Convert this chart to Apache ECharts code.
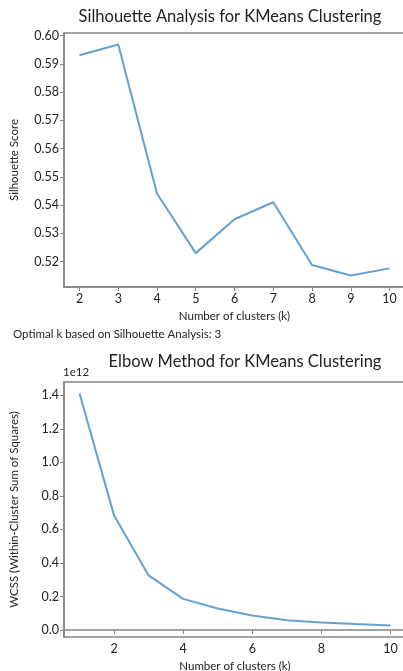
<!DOCTYPE html>
<html>
<head>
<meta charset="utf-8">
<script src="https://cdn.jsdelivr.net/npm/echarts@6/dist/echarts.min.js"></script>
<style>
  html, body { margin: 0; padding: 0; background: #fff; }
  #chart { width: 403px; height: 671px; }
</style>
</head>
<body>
<div id="chart"></div>
<script>
// Silhouette scores for k = 2..10
const silhouetteK = [2, 3, 4, 5, 6, 7, 8, 9, 10];
const silhouetteScores = [0.593, 0.5968, 0.5441, 0.523, 0.535, 0.541, 0.5188, 0.5151, 0.5176];
const silhouetteTicks = [0.52, 0.53, 0.54, 0.55, 0.56, 0.57, 0.58, 0.59, 0.60];

// Within-cluster sum of squares for k = 1..10
const elbowK = [1, 2, 3, 4, 5, 6, 7, 8, 9, 10];
const wcss = [1.41e12, 0.6825e12, 0.326e12, 0.186e12, 0.129e12, 0.087e12, 0.059e12, 0.046e12, 0.036e12, 0.028e12];
const wcssTicks = [0, 0.2e12, 0.4e12, 0.6e12, 0.8e12, 1.0e12, 1.2e12, 1.4e12];
const elbowXTicks = [2, 4, 6, 8, 10];

const optimalK = silhouetteK[silhouetteScores.indexOf(Math.max(...silhouetteScores))];

const FONT = 'Lato';
const LINE = '#65a0d0';
const SPINE = '#858585';
const TEXT = '#222';

function pad(vals, frac) {
  const lo = Math.min(...vals), hi = Math.max(...vals);
  const m = (hi - lo) * frac;
  return [lo - m, hi + m];
}

const sx = pad(silhouetteK, 0.05), sy = pad(silhouetteScores, 0.05);
const ex = pad(elbowK, 0.05), ey = pad(wcss, 0.05);

const tickStyle = { show: true, length: 4, lineStyle: { color: SPINE, width: 1 } };
const axisLineStyle = { show: true, lineStyle: { color: SPINE, width: 1.5 } };
const labelBase = { color: TEXT, fontFamily: FONT, fontSize: 12.5, margin: 5 };
const nameStyle = { fontFamily: FONT, fontSize: 11.5, color: TEXT };

const chart = echarts.init(document.getElementById('chart'), null, { renderer: 'canvas' });

chart.setOption({
  animation: false,
  backgroundColor: '#fff',
  title: [
    { text: 'Silhouette Analysis for KMeans Clustering', left: 230, top: 8, textAlign: 'center', padding: 0,
      textStyle: { fontFamily: FONT, fontSize: 16.5, fontWeight: 'normal', color: TEXT } },
    { text: 'Optimal k based on Silhouette Analysis: ' + optimalK, left: 13, top: 328, padding: 0,
      textStyle: { fontFamily: FONT, fontSize: 11.5, fontWeight: 'normal', color: TEXT } },
    { text: 'Elbow Method for KMeans Clustering', left: 245, top: 353, textAlign: 'center', padding: 0,
      textStyle: { fontFamily: FONT, fontSize: 16.5, fontWeight: 'normal', color: TEXT } },
    { text: '1e12', left: 63, top: 366, padding: 0,
      textStyle: { fontFamily: FONT, fontSize: 11.5, fontWeight: 'normal', color: TEXT } }
  ],
  grid: [
    { left: 64, top: 33, width: 341, height: 254, outerBoundsMode: 'none',
      show: true, borderColor: SPINE, borderWidth: 1.5, backgroundColor: 'transparent' },
    { left: 64, top: 382, width: 342, height: 255, outerBoundsMode: 'none',
      show: true, borderColor: SPINE, borderWidth: 1.5, backgroundColor: 'transparent' }
  ],
  xAxis: [
    { type: 'value', gridIndex: 0, min: sx[0], max: sx[1],
      name: 'Number of clusters (k)', nameLocation: 'middle', nameGap: 23, nameTextStyle: nameStyle,
      axisLine: axisLineStyle, splitLine: { show: false },
      axisTick: Object.assign({ customValues: silhouetteK }, tickStyle),
      axisLabel: Object.assign({ customValues: silhouetteK, formatter: v => String(v) }, labelBase) },
    { type: 'value', gridIndex: 1, min: ex[0], max: ex[1],
      name: 'Number of clusters (k)', nameLocation: 'middle', nameGap: 23, nameTextStyle: nameStyle,
      axisLine: axisLineStyle, splitLine: { show: false },
      axisTick: Object.assign({ customValues: elbowXTicks }, tickStyle),
      axisLabel: Object.assign({ customValues: elbowXTicks, formatter: v => String(v) }, labelBase) }
  ],
  yAxis: [
    { type: 'value', gridIndex: 0, min: sy[0], max: sy[1],
      name: 'Silhouette Score', nameLocation: 'middle', nameGap: 44, nameRotate: 90, nameTextStyle: nameStyle,
      axisLine: axisLineStyle, splitLine: { show: false },
      axisTick: Object.assign({ customValues: silhouetteTicks }, tickStyle),
      axisLabel: Object.assign({ customValues: silhouetteTicks, formatter: v => v.toFixed(2) }, labelBase) },
    { type: 'value', gridIndex: 1, min: ey[0], max: ey[1],
      name: 'WCSS (Within-Cluster Sum of Squares)', nameLocation: 'middle', nameGap: 44, nameRotate: 90,
      nameTextStyle: nameStyle,
      axisLine: axisLineStyle, splitLine: { show: false },
      axisTick: Object.assign({ customValues: wcssTicks }, tickStyle),
      axisLabel: Object.assign({ customValues: wcssTicks, formatter: v => (v / 1e12).toFixed(1) }, labelBase) }
  ],
  series: [
    { type: 'line', xAxisIndex: 0, yAxisIndex: 0, showSymbol: false,
      data: silhouetteK.map((k, i) => [k, silhouetteScores[i]]),
      lineStyle: { color: LINE, width: 2 } },
    { type: 'line', xAxisIndex: 1, yAxisIndex: 1, showSymbol: false,
      data: elbowK.map((k, i) => [k, wcss[i]]),
      lineStyle: { color: LINE, width: 2 } }
  ]
});
</script>
</body>
</html>
